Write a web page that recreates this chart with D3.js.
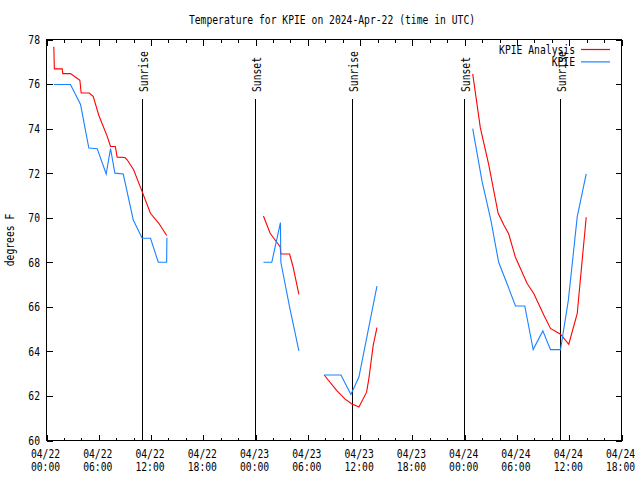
<!DOCTYPE html>
<html><head><meta charset="utf-8">
<script src="https://cdn.jsdelivr.net/npm/d3@7"></script>
<style>body{margin:0;background:#fff}svg{display:block}</style>
</head><body>
<svg id="c" width="640" height="480"></svg>
<script>
// ---- data (hours after 2024-04-22 00:00 UTC, temperatures in °F); null breaks a line ----
const analysisHours = [0.84,0.90,1.80,1.87,2.75,3.55,3.83,3.98,4.90,5.36,6.00,6.97,7.35,7.90,8.11,9.00,9.26,10.00,10.98,11.93,12.89,13.80,
  null,
  24.90,25.67,26.24,26.82,26.90,27.90,28.30,28.97,
  null,
  31.87,33.30,34.25,35.00,35.86,36.74,37.00,37.50,37.93,
  null,
  48.92,49.80,50.76,51.84,52.48,53.06,53.80,55.17,55.93,57.08,57.85,59.00,59.95,60.92,61.38,61.95];
const analysisTemps = [77.67,76.68,76.68,76.47,76.47,76.25,76.17,75.60,75.60,75.45,74.60,73.65,73.20,73.20,72.72,72.70,72.60,72.15,71.17,70.20,69.75,69.20,
  null,
  70.08,69.30,69.00,68.70,68.37,68.37,67.80,66.56,
  null,
  62.94,62.25,61.87,61.65,61.50,62.17,62.78,64.27,65.07,
  null,
  76.46,74.03,72.38,70.20,69.68,69.27,68.25,67.05,66.60,65.63,65.03,64.77,64.32,65.70,67.65,70.02];

const obsHours = [0.84,2.75,3.91,4.86,5.82,6.85,7.35,7.85,8.81,9.96,10.98,11.94,12.83,13.79,13.82,
  null,
  24.90,25.86,26.85,26.90,27.90,28.97,
  null,
  31.87,33.80,34.94,35.86,36.90,37.93,
  null,
  48.92,50.00,51.00,51.90,52.90,53.83,54.90,55.86,56.97,57.85,59.00,59.90,60.92,61.95];
const obsTemps = [75.98,75.98,75.08,73.13,73.10,71.96,73.10,72.00,71.96,69.90,69.08,69.08,68.00,68.00,69.10,
  null,
  68.00,68.00,69.78,68.00,66.00,64.02,
  null,
  62.94,62.94,62.07,62.85,64.90,66.93,
  null,
  74.00,71.62,69.90,68.00,67.00,66.04,66.04,64.08,64.92,64.08,64.08,66.30,70.05,71.97];

const sunTimes  = ["2024-04-22T11:00Z","2024-04-22T23:58Z","2024-04-23T11:02Z","2024-04-23T23:58Z","2024-04-24T10:59Z"];
const sunLabels = ["Sunrise","Sunset","Sunrise","Sunset","Sunrise"];

const yTicks = [60,62,64,66,68,70,72,74,76,78];
const seriesNames = ["KPIE Analysis","KPIE"];
const seriesColors = ["#ff0000","#1a82ff"];
const titleText = "Temperature for KPIE on 2024-Apr-22 (time in UTC)";
const yLabel = "degrees F";

// ---- drawing ----
const base = Date.UTC(2024,3,22,0,0);
const toDate = h => h == null ? null : new Date(base + h*3600e3);
const svg = d3.select("#c");
const FONT = "'DejaVu Sans Mono','Liberation Mono',monospace";
const CW = 5.84;

const x = d3.scaleUtc().domain([new Date(base), new Date(Date.UTC(2024,3,24,18))]).range([46.5, 621.5]);
const y = d3.scaleLinear().domain([60,78]).range([440.5, 39.5]);

function txt(g, s, px, py, anchor) {
  return g.append("text").attr("x", px).attr("y", py).text(s)
    .attr("font-family", FONT).attr("font-size", 12).attr("fill", "#000")
    .attr("text-anchor", anchor || "start")
    .attr("textLength", s.length*CW).attr("lengthAdjust", "spacingAndGlyphs");
}

// title
txt(svg, titleText, 332, 24, "middle");

// x axis ticks (major 6h, minor 2h), bottom and top mirrored, pointing inward
const major = x.ticks(d3.utcHour.every(6));
const minor = x.ticks(d3.utcHour.every(2)).filter(d => d.getUTCHours() % 6 !== 0);
const axG = svg.append("g").attr("stroke", "#000").attr("stroke-width", 1).attr("shape-rendering","crispEdges");
const addXTicks = (ticks, len) => {
  axG.append("g").attr("transform","translate(0,440.5)")
    .call(d3.axisBottom(x).tickValues(ticks).tickSize(-len).tickFormat(""))
    .call(g => g.select(".domain").remove());
  axG.append("g").attr("transform","translate(0,39.5)")
    .call(d3.axisTop(x).tickValues(ticks).tickSize(-len).tickFormat(""))
    .call(g => g.select(".domain").remove());
};
addXTicks(major, 6);
addXTicks(minor, 3);
axG.append("g").attr("transform","translate(46.5,0)")
  .call(d3.axisLeft(y).tickValues(yTicks).tickSize(-6).tickFormat(""))
  .call(g => g.select(".domain").remove());
axG.append("g").attr("transform","translate(621.5,0)")
  .call(d3.axisRight(y).tickValues(yTicks).tickSize(-6).tickFormat(""))
  .call(g => g.select(".domain").remove());
svg.selectAll(".tick line").attr("stroke","#000");

// tick labels
const fmtD = d3.utcFormat("%m/%d"), fmtT = d3.utcFormat("%H:%M");
major.forEach(d => {
  txt(svg, fmtD(d), x(d) - 1, 458, "middle");
  txt(svg, fmtT(d), x(d) - 1, 471, "middle");
});
yTicks.forEach(v => txt(svg, String(v), 40, y(v) + 4.4, "end"));

// y label
txt(svg, yLabel, 0, 0, "middle").attr("transform", "translate(14,240) rotate(-90)");

// sunrise / sunset markers
const sunG = svg.append("g");
sunTimes.forEach((t, i) => {
  const xv = Math.round(x(new Date(t))) + 0.5;
  sunG.append("line").attr("x1", xv).attr("x2", xv).attr("y1", 98.5).attr("y2", 440.5)
    .attr("stroke","#000").attr("stroke-width",1).attr("shape-rendering","crispEdges");
  txt(sunG, sunLabels[i], 0, 0, "start").attr("transform", `translate(${xv+5.5},92) rotate(-90)`);
});

// border
svg.append("rect").attr("x",46.5).attr("y",39.5).attr("width",575).attr("height",401)
  .attr("fill","none").attr("stroke","#000").attr("stroke-width",1).attr("shape-rendering","crispEdges");

// series lines
const line = d3.line().defined(d => d[0] != null && d[1] != null)
  .x(d => x(d[0])).y(d => y(d[1]));
const ser = [
  d3.zip(analysisHours.map(toDate), analysisTemps),
  d3.zip(obsHours.map(toDate), obsTemps)
];
ser.forEach((pts, i) => {
  svg.append("path").attr("d", line(pts)).attr("fill","none")
    .attr("stroke", seriesColors[i]).attr("stroke-width", 1.1);
});

// legend
seriesNames.forEach((n, i) => {
  const ly = 49.5 + i*12.4;
  txt(svg, n, 575, ly + 4.5, "end");
  svg.append("line").attr("x1",581).attr("x2",610).attr("y1",ly).attr("y2",ly)
    .attr("stroke", seriesColors[i]).attr("stroke-width",1.2);
});
</script>
</body></html>
